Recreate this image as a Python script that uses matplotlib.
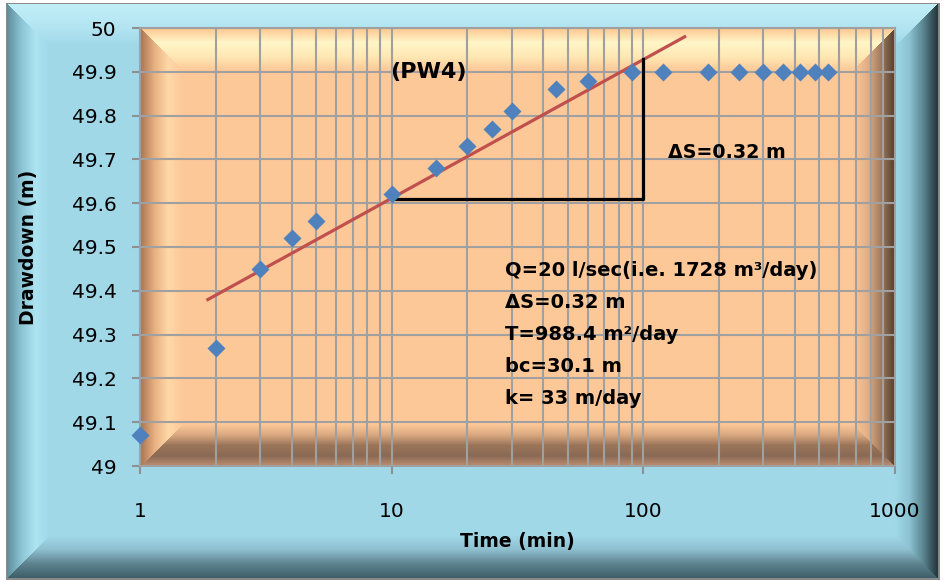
"""pumping test drawdown vs time, semi-log (Cooper-Jacob) plot"""

import matplotlib
matplotlib.use("Agg")
import matplotlib.pyplot as plt
import numpy as np
from matplotlib.colors import to_rgb

# observed data
time_min = [1, 2, 3, 4, 5, 10, 15, 20, 25, 30, 45, 60, 90,
            120, 180, 240, 300, 360, 420, 480, 540]
drawdown_m = [49.07, 49.27, 49.45, 49.52, 49.56, 49.62, 49.68, 49.73, 49.77,
              49.81, 49.86, 49.88, 49.90, 49.90, 49.90, 49.90, 49.90, 49.90,
              49.90, 49.90, 49.90]

# straight line fit and the delta-s construction
fit_t = [1.86, 146]
fit_s = [49.38, 49.98]
delta_t = [10, 100, 100]
delta_s = [49.61, 49.61, 49.93]

info_lines = ["Q=20 l/sec(i.e. 1728 m\u00b3/day)", "\u0394S=0.32 m",
              "T=988.4 m\u00b2/day", "bc=30.1 m", "k= 33 m/day"]

W, H = 945, 582


def bevel(img, x0, y0, x1, y1, depth, face, sides):
    """paint a bevelled rectangle into img (left, right, top, bottom stops)"""
    yy, xx = np.mgrid[y0:y1, x0:x1]
    d = np.stack([xx - x0, x1 - 1 - xx, yy - y0, y1 - 1 - yy]).astype(float)
    side = d.argmin(0)
    t = np.clip(d.min(0) / depth, 0, 1)
    out = np.empty(xx.shape + (3,))
    out[:] = to_rgb(face)
    for k, stops in enumerate(sides):
        stops = np.array([to_rgb(c) for c in stops])
        pos = np.linspace(0, 1, len(stops))
        m = (side == k) & (t < 1)
        for ch in range(3):
            out[..., ch][m] = np.interp(t[m], pos, stops[:, ch])
    img[y0:y1, x0:x1] = out


img = np.ones((H, W, 3))
img[3:580, 6:940] = to_rgb("#8a8a8a")
bevel(img, 7, 4, 938, 578, 42, "#a0d8e8",
      [["#5f8f9c", "#8cc4d4", "#aee4f2", "#a0d8e8"],
       ["#24363c", "#5a8490", "#8cc2d2", "#a0d8e8"],
       ["#c2eef8", "#b4e6f2", "#a0d8e8"],
       ["#3f5f6a", "#5e848f", "#8fc0cf", "#a0d8e8"]])
bevel(img, 140, 28, 896, 467, 42, "#fdc898",
      [["#a87452", "#e8b080", "#ffd8a8", "#fdc898"],
       ["#4e3a2c", "#a07a5c", "#e0b088", "#fdc898"],
       ["#fcc890", "#fff6c8", "#ffe8b4", "#fdc898"],
       ["#c09070", "#8a6a55", "#9a7458", "#d8a880", "#fdc898"]])

fig = plt.figure(figsize=(W / 100, H / 100), dpi=100)
bg = fig.add_axes([0, 0, 1, 1], zorder=-5)
bg.imshow(img, extent=[0, W, H, 0], aspect="auto", interpolation="bilinear")
bg.set_axis_off()

ax = fig.add_axes([140 / W, 1 - 466 / H, 755 / W, 438 / H])
ax.patch.set_alpha(0)
ax.set_xscale("log")
ax.set_xlim(1, 1000)
ax.set_ylim(49, 50)
ax.set_yticks(np.arange(49, 50.01, 0.1))
ax.set_yticklabels(["49", "49.1", "49.2", "49.3", "49.4", "49.5", "49.6",
                    "49.7", "49.8", "49.9", "50"])
ax.set_xticks([1, 10, 100, 1000])
ax.set_xticklabels(["1", "10", "100", "1000"])
ax.grid(True, which="major", color="#a0a0a0", lw=1.5)
ax.grid(True, which="minor", axis="x", color="#a0a0a0", lw=1.5)
ax.tick_params(which="major", direction="out", length=6, width=1.5,
               color="#909090", labelsize=14.5)
ax.tick_params(axis="x", pad=20)
ax.tick_params(axis="y", pad=11)
ax.tick_params(which="minor", length=0)
for sp in ax.spines.values():
    sp.set_color("#a0a0a0")
    sp.set_linewidth(1.5)

ax.plot(fit_t, fit_s, color="#c0504d", lw=2.3, zorder=3)
ax.plot(delta_t, delta_s, color="black", lw=2.3, zorder=3)
ax.plot(time_min, drawdown_m, "D", color="#4f81bd", ms=9, mec="none",
        zorder=4, clip_on=False)

ax.text(9.9, 49.9, "(PW4)", fontsize=16, fontweight="bold", va="center")
ax.text(125, 49.715, "\u0394S=0.32 m", fontsize=13.7, fontweight="bold",
        va="center")
for i, line in enumerate(info_lines):
    ax.text(28.2, 49.447 - 0.073 * i, line, fontsize=14, fontweight="bold",
            va="center")

ax.set_xlabel("Time (min)", fontsize=13.5, fontweight="bold", labelpad=8)
ax.set_ylabel("Drawdown (m)", fontsize=13.5, fontweight="bold", labelpad=24)

fig.savefig("out.png", dpi=100)
